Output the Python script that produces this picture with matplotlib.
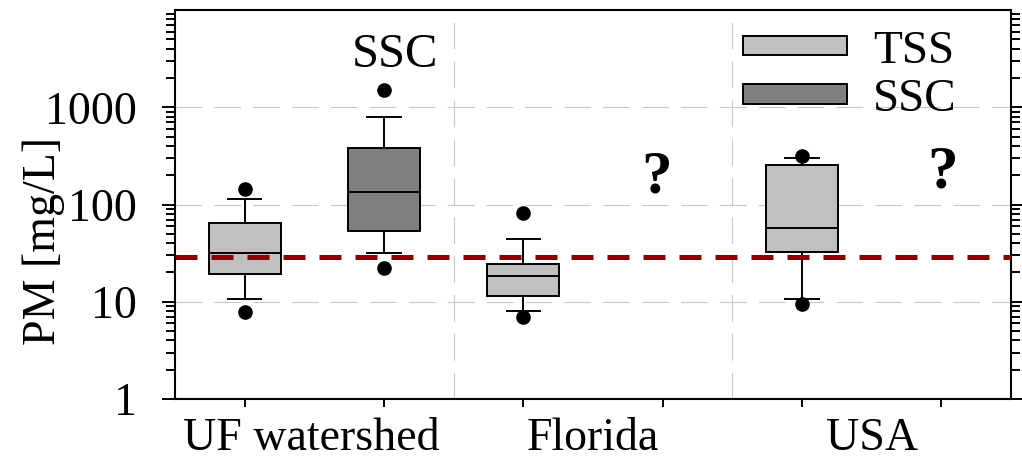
import matplotlib
matplotlib.use("Agg")
import matplotlib.pyplot as plt
import matplotlib.transforms as mtransforms
from matplotlib.patches import Patch
from matplotlib.ticker import LogLocator, NullFormatter

plt.rcParams['font.family'] = ['Liberation Serif', 'DejaVu Serif']

# Particulate matter concentrations [mg/L]
regions = ["UF watershed", "Florida", "USA"]
series = ["TSS", "SSC"]

tss_pos = [1, 3, 5]
tss_q1 = [19.1, 11.4, 32.6]
tss_med = [31.9, 18.3, 57.6]
tss_q3 = [64.9, 24.4, 255.0]
tss_whislo = [10.8, 8.1, 10.6]
tss_whishi = [113.0, 44.4, 302.0]
tss_fliers = [[7.9, 145.0], [7.0, 81.0], [9.4, 312.0]]

ssc_pos = [2]
ssc_q1 = [53.7]
ssc_med = [135.0]
ssc_q3 = [380.0]
ssc_whislo = [31.4]
ssc_whishi = [785.0]
ssc_fliers = [[22.4, 1500.0]]

missing_ssc_pos = [3.96, 6.01]
threshold = 29.0

y_ticks = [1, 10, 100, 1000]
y_ticklabels = ["1", "10", "100", "1000"]

tss_color = "#c0c0c0"
ssc_color = "#808080"
grid_color = "#c8c8c8"
lw = 1.4

fig = plt.figure(figsize=(10.22, 4.59), dpi=100)
ax = fig.add_axes([0.1712, 0.1307, 0.8180, 0.8475])


def stats_for(q1, med, q3, lo, hi, fl):
    return [dict(q1=a, med=b, q3=c, whislo=d, whishi=e, fliers=f)
            for a, b, c, d, e, f in zip(q1, med, q3, lo, hi, fl)]


common = dict(widths=0.515, capwidths=0.24, patch_artist=True, manage_ticks=False,
              medianprops=dict(color="k", linewidth=lw),
              whiskerprops=dict(color="k", linewidth=lw),
              capprops=dict(color="k", linewidth=lw),
              flierprops=dict(marker="o", markerfacecolor="k", markeredgecolor="k",
                              markersize=9.5, linestyle="none"),
              zorder=2)

ax.bxp(stats_for(tss_q1, tss_med, tss_q3, tss_whislo, tss_whishi, tss_fliers),
       positions=tss_pos,
       boxprops=dict(facecolor=tss_color, edgecolor="k", linewidth=lw), **common)
ax.bxp(stats_for(ssc_q1, ssc_med, ssc_q3, ssc_whislo, ssc_whishi, ssc_fliers),
       positions=ssc_pos,
       boxprops=dict(facecolor=ssc_color, edgecolor="k", linewidth=lw), **common)

ax.set_yscale("log")
ax.set_ylim(1, 10000)
ax.set_xlim(0.5, 6.5)

# gridlines: decades and group separators
for v in [10, 100, 1000]:
    ax.axhline(v, color=grid_color, linewidth=0.8, linestyle=(0, (24, 11)), zorder=0)
for xv in [2.5, 4.5]:
    ax.axvline(xv, color=grid_color, linewidth=0.8, linestyle=(0, (24, 11)), zorder=0)

# threshold line
ax.axhline(threshold, color="#8b0000", linewidth=3.6, linestyle=(0, (4.4, 2.8)), zorder=3)

# axes ticks
ax.set_yticks(y_ticks)
ax.set_yticklabels(y_ticklabels, fontsize=33)
ax.yaxis.set_minor_locator(LogLocator(base=10, subs=range(2, 10), numticks=20))
ax.yaxis.set_minor_formatter(NullFormatter())
ax.tick_params(axis="y", which="major", direction="out", length=9.4, width=lw,
               pad=18, left=True, right=True)
ax.tick_params(axis="y", which="minor", direction="out", length=6.7, width=lw,
               left=True, right=True)
ax.set_xticks([1, 2, 3, 4, 5, 6])
ax.set_xticklabels([""] * 6)
ax.tick_params(axis="x", which="major", direction="out", length=5.8, width=lw, top=False)
for s in ax.spines.values():
    s.set_linewidth(1.5)

trans = mtransforms.blended_transform_factory(ax.transData, ax.transAxes)
for xc, name in zip([1.48, 3.5, 5.5], regions):
    ax.text(xc, -0.13, name, transform=trans, ha="center", va="baseline", fontsize=33)

fig.text(44 / 1022, 1 - 241 / 459, "PM [mg/L]", rotation=90, ha="center", va="center",
         fontsize=33)

ax.text(2.08, 0.853, "SSC", transform=trans, ha="center", va="baseline", fontsize=35)

for xq, yb in zip(missing_ssc_pos, [0.532, 0.545]):
    ax.text(xq, yb, "?", transform=trans, ha="center", va="baseline", fontsize=44,
            fontweight="bold")

handles = [Patch(facecolor=tss_color, edgecolor="k", linewidth=lw),
           Patch(facecolor=ssc_color, edgecolor="k", linewidth=lw)]
ax.legend(handles, series, loc="center", bbox_to_anchor=(0.807, 0.832), frameon=False,
          fontsize=34, handlelength=2.2, handleheight=0.27, handletextpad=0.55,
          labelspacing=0.12, borderpad=0, borderaxespad=0)

fig.savefig("out.png", dpi=100)
